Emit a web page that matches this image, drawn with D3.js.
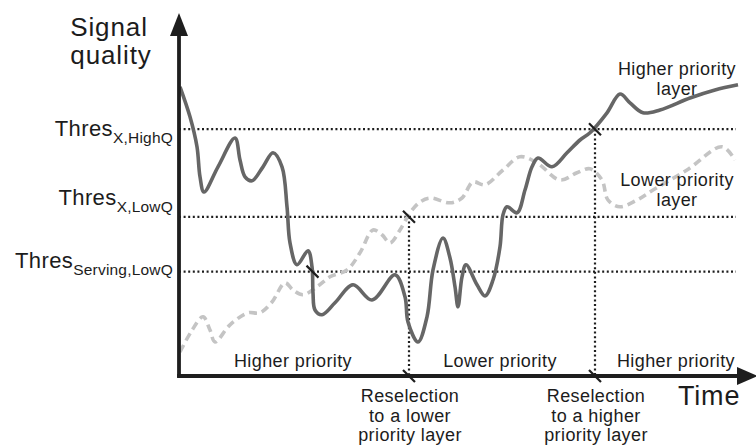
<!DOCTYPE html>
<html>
<head>
<meta charset="utf-8">
<script src="https://cdn.jsdelivr.net/npm/d3@7"></script>
<style>
  html, body { margin: 0; padding: 0; background: #fff; }
  svg { display: block; font-family: "Liberation Sans", Arial, Helvetica, sans-serif; }
</style>
</head>
<body>
<svg id="chart" width="756" height="448"></svg>
<script>
// ---- data (time units, quality units) ----
const higherLayerTime = [0.2, 2.2, 3.6, 4.2, 5.0, 7.8, 11.2, 12.2, 13.2, 14.6, 16.8, 18.8, 20.6, 21.6, 22.2, 23.6, 25.8, 26.6, 26.8, 27.2, 28.6, 31.2, 34.8, 38.6, 43.2, 45.2, 45.8, 47.8, 49.6, 50.8, 52.8, 54.2, 55.2, 55.8, 56.6, 57.4, 59.6, 61.2, 62.8, 64.2, 64.8, 65.6, 67.6, 69.2, 70.6, 71.8, 74.6, 77.6, 80.2, 82.2, 85.6, 88.2, 90.2, 92.8, 96.2, 102.2, 107.2, 111.8];
const higherLayerQuality = [72.3, 64.8, 57.3, 49.8, 46.0, 52.3, 59.5, 54.0, 49.8, 48.8, 52.3, 55.8, 52.3, 42.3, 33.3, 27.8, 31.3, 27.3, 20.8, 16.5, 15.3, 18.3, 22.8, 19.0, 25.3, 19.8, 13.5, 8.5, 14.8, 26.5, 34.5, 29.5, 22.3, 17.3, 24.8, 27.8, 22.8, 20.0, 24.0, 32.3, 40.3, 42.3, 40.8, 46.5, 52.3, 54.5, 52.3, 55.8, 59.0, 60.8, 65.8, 70.5, 68.3, 65.8, 66.5, 69.5, 71.5, 72.8];

const lowerLayerTime = [0.2, 2.4, 4.8, 6.2, 7.2, 10.2, 13.8, 16.2, 18.6, 21.2, 22.8, 24.8, 27.8, 30.2, 33.6, 36.2, 38.8, 40.6, 42.2, 44.2, 46.2, 48.2, 50.2, 54.2, 56.6, 58.8, 61.2, 64.8, 68.2, 71.6, 76.2, 79.6, 82.2, 84.6, 85.8, 88.2, 91.6, 94.8, 101.6, 108.6, 111.2];
const lowerLayerQuality = [6.0, 11.0, 14.8, 11.5, 8.5, 12.8, 15.8, 15.8, 18.5, 23.3, 21.5, 20.3, 22.5, 24.8, 26.5, 30.8, 36.5, 35.3, 33.3, 36.5, 40.8, 43.5, 44.5, 43.3, 44.5, 48.5, 47.8, 51.5, 54.8, 53.3, 49.0, 50.8, 51.8, 49.0, 44.0, 42.3, 44.0, 46.5, 51.5, 57.3, 54.0];

const thresholdNames = ["X,HighQ", "X,LowQ", "Serving,LowQ"];
const thresholdValues = [61.7, 39.8, 26.1];

const reselectionTimes = [46.0, 83.2];
const reselectionThreshold = [1, 0];            // index into thresholds
const reselectionLabels = [["Reselection", "to a lower", "priority layer"], ["Reselection", "to a higher", "priority layer"]];

const crossingTime = [26.7];
const crossingThreshold = [2];

const periodLabels = ["Higher priority", "Lower priority", "Higher priority"];
const periodCenters = [22.8, 64.2, 99.4];

// ---- layout ----
const svg = d3.select("#chart");
const x = d3.scaleLinear().domain([0, 116]).range([179, 759]);
const y = d3.scaleLinear().domain([0, 90]).range([376, 16]);

const ink = "#1e1e1e";
const textCol = "#1c1c1c";

// threshold dotted lines
svg.append("g").selectAll("line").data(thresholdValues).join("line")
  .attr("x1", x(0)).attr("x2", x(111.4))
  .attr("y1", d => y(d)).attr("y2", d => y(d))
  .attr("stroke", ink).attr("stroke-width", 2.2).attr("stroke-dasharray", "2,2.6");

// vertical reselection dotted lines
svg.append("g").selectAll("line").data(reselectionTimes).join("line")
  .attr("x1", d => x(d)).attr("x2", d => x(d))
  .attr("y1", (d, i) => y(thresholdValues[reselectionThreshold[i]]))
  .attr("y2", y(0))
  .attr("stroke", ink).attr("stroke-width", 2.2).attr("stroke-dasharray", "2,2.6");

// curves
const line = d3.line().curve(d3.curveCatmullRom.alpha(0.5));
const lowerPts = lowerLayerTime.map((t, i) => [x(t), y(lowerLayerQuality[i])]);
const higherPts = higherLayerTime.map((t, i) => [x(t), y(higherLayerQuality[i])]);

svg.append("path").attr("d", line(lowerPts))
  .attr("fill", "none").attr("stroke", "#c4c4c4").attr("stroke-width", 3.6)
  .attr("stroke-dasharray", "8,5");
svg.append("path").attr("d", line(higherPts))
  .attr("fill", "none").attr("stroke", "#666").attr("stroke-width", 3.6)
  .attr("stroke-linejoin", "round");

// slanted tick marks
const marks = [];
reselectionTimes.forEach((t, i) => {
  marks.push([x(t), y(thresholdValues[reselectionThreshold[i]])]);
  marks.push([x(t), y(0)]);
});
crossingTime.forEach((t, i) => marks.push([x(t), y(thresholdValues[crossingThreshold[i]])]));
svg.append("g").selectAll("line").data(marks).join("line")
  .attr("x1", d => d[0] - 6).attr("y1", d => d[1] - 6)
  .attr("x2", d => d[0] + 6).attr("y2", d => d[1] + 6)
  .attr("stroke", ink).attr("stroke-width", 2.2);

// axes
svg.append("line").attr("x1", x(0)).attr("x2", x(0)).attr("y1", y(0) + 1.5).attr("y2", 30)
  .attr("stroke", ink).attr("stroke-width", 3.8);
svg.append("path").attr("d", `M${x(0)},13 L${x(0) + 9},36 L${x(0) - 9},36 Z`).attr("fill", ink);
svg.append("line").attr("x1", x(0) - 1.9).attr("x2", 742).attr("y1", y(0)).attr("y2", y(0))
  .attr("stroke", ink).attr("stroke-width", 3.8);
svg.append("path").attr("d", `M758,${y(0)} L737,${y(0) - 9} L737,${y(0) + 9} Z`).attr("fill", ink);

// axis titles
svg.append("text").attr("x", 109).attr("y", 36).attr("text-anchor", "middle")
  .attr("font-size", 26).attr("letter-spacing", 0.9).attr("fill", textCol).text("Signal");
svg.append("text").attr("x", 111).attr("y", 64).attr("text-anchor", "middle")
  .attr("font-size", 26).attr("letter-spacing", 0.9).attr("fill", textCol).text("quality");
svg.append("text").attr("x", 678).attr("y", 405)
  .attr("font-size", 27).attr("letter-spacing", 0.8).attr("fill", textCol).text("Time");

// threshold labels
const labelDy = [6.5, -12, -4];
thresholdNames.forEach((n, i) => {
  const t = svg.append("text").attr("x", 173).attr("y", y(thresholdValues[i]) + labelDy[i])
    .attr("text-anchor", "end").attr("fill", textCol);
  t.append("tspan").attr("font-size", 22).attr("letter-spacing", 0.4).text("Thres");
  t.append("tspan").attr("font-size", 15.5).attr("dy", 7.5).attr("letter-spacing", 0.2).text(n);
});

// period labels
svg.append("g").selectAll("text").data(periodLabels).join("text")
  .attr("x", (d, i) => x(periodCenters[i])).attr("y", 367)
  .attr("text-anchor", "middle").attr("font-size", 18).attr("letter-spacing", 0.4)
  .attr("fill", textCol).text(d => d);

// reselection labels
reselectionLabels.forEach((lines, i) => {
  lines.forEach((s, j) => {
    svg.append("text").attr("x", x(reselectionTimes[i]) + 1).attr("y", 402 + j * 19.5)
      .attr("text-anchor", "middle").attr("font-size", 18).attr("letter-spacing", 0.4)
      .attr("fill", textCol).text(s);
  });
});

// series labels
const seriesLabels = [["Higher priority", "layer"], ["Lower priority", "layer"]];
const seriesLabelY = [75, 186];
seriesLabels.forEach((lines, i) => {
  lines.forEach((s, j) => {
    svg.append("text").attr("x", 677).attr("y", seriesLabelY[i] + j * 20)
      .attr("text-anchor", "middle").attr("font-size", 18).attr("letter-spacing", 0.4)
      .attr("fill", textCol).text(s);
  });
});
</script>
</body>
</html>
